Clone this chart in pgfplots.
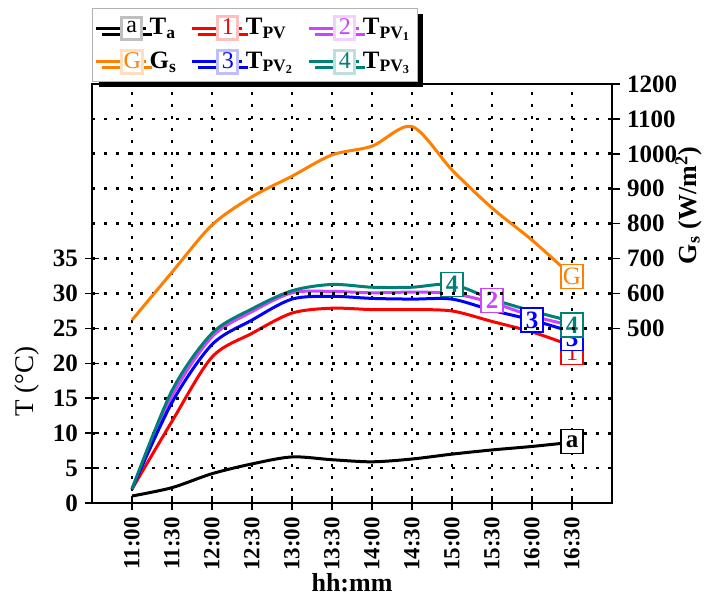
\documentclass[border=0pt]{standalone}
\usepackage{fontspec}
\setmainfont{Liberation Serif}
\usepackage{pgfplots}
\pgfplotsset{compat=1.18}
\usetikzlibrary{shadows}
\definecolor{cTa}{RGB}{0,0,0}
\definecolor{cPV}{RGB}{255,0,0}
\definecolor{cPVa}{RGB}{204,68,255}
\definecolor{cPVb}{RGB}{0,0,255}
\definecolor{cPVc}{RGB}{0,128,118}
\definecolor{cG}{RGB}{255,128,0}
\tikzset{
  lab/.style={draw=#1, fill=white, text=#1, line width=0.6pt, inner sep=1pt, minimum width=11pt, minimum height=12pt, font=\fontsize{12.5}{14}\selectfont},
}
\pgfplotsset{
  legimg/.style 2 args={legend image code/.code={
    \draw[##1] (0pt,0pt) -- (25pt,0pt);
    \node[draw=#1!25, fill=white, text=#1, inner sep=1pt, minimum width=10pt, minimum height=11pt, font=\fontsize{12}{13}\selectfont] at (12pt,0pt) {#2};}},
  crv/.style={#1, line width=1.5pt, smooth, no marks},
  gridst/.style={grid style={black, line width=1.4pt, dash pattern=on 1.4pt off 4.6pt}},
}
\begin{document}
\begin{tikzpicture}
\useasboundingbox (-46pt,-46.5pt) rectangle (306pt,251.5pt);
\begin{axis}[
  scale only axis, width=260pt, height=209.5pt,
  xmin=-1, xmax=12, ymin=0, ymax=60,
  xtick={0,...,11},
  xticklabels={11:00,11:30,12:00,12:30,13:00,13:30,14:00,14:30,15:00,15:30,16:00,16:30},
  ytick={0,5,...,35},
  xtick pos=bottom, ytick pos=left,
  tick align=center, major tick length=7pt,
  tick style={black, line width=0.8pt},
  axis line style={black, line width=0.8pt},
  grid=major, gridst,
  /pgf/number format/assume math mode=true,
  tick label style={font=\fontsize{12.5}{14}\selectfont\bfseries},
  xticklabel style={rotate=90, anchor=east, font=\fontsize{11.5}{13}\selectfont\bfseries},
  xlabel={\textbf{hh:mm}},
  xlabel style={font=\fontsize{13}{15}\selectfont, at={(axis description cs:0.5,-0.19)}, anchor=center, inner sep=0pt},
  ylabel={T (°C)},
  ylabel style={font=\fontsize{13.5}{15}\selectfont, at={(axis description cs:-0.125,0.289)}, anchor=center, rotate=0},
  clip=false,
]
\addplot[crv=cTa] coordinates {(0,1.0) (1,2.2) (2,4.2) (3,5.6) (4,6.6) (5,6.2) (6,5.9) (7,6.3) (8,7.0) (9,7.6) (10,8.1) (11,8.7)};
\addplot[crv=cPV] coordinates {(0,2.0) (1,11.7) (2,20.9) (3,24.3) (4,27.2) (5,27.9) (6,27.7) (7,27.7) (8,27.5) (9,26.0) (10,24.5) (11,22.5)};
\addplot[crv=cPVa] coordinates {(0,2.0) (1,15.3) (2,23.8) (3,27.4) (4,30.1) (5,30.3) (6,30.1) (7,30.2) (8,30.0) (9,28.7) (10,26.8) (11,25.4)};
\addplot[crv=cPVb] coordinates {(0,2.0) (1,14.4) (2,22.7) (3,26.2) (4,29.2) (5,29.6) (6,29.3) (7,29.2) (8,29.2) (9,27.6) (10,26.2) (11,24.5)};
\addplot[crv=cPVc] coordinates {(0,2.0) (1,16.1) (2,24.3) (3,27.8) (4,30.4) (5,31.3) (6,30.9) (7,30.9) (8,31.3) (9,29.2) (10,27.5) (11,26.0)};
\node[lab=cTa, font=\fontsize{12.5}{14}\selectfont\bfseries] at (axis cs:11,8.8) {a};
\node[lab=cPV] at (axis cs:11,21.6) {1};
\node[lab=cPVb, font=\fontsize{12.5}{14}\selectfont\bfseries] at (axis cs:11,23.6) {3};
\node[lab=cPVc, font=\fontsize{12.5}{14}\selectfont\bfseries] at (axis cs:11,25.5) {4};
\node[lab=cPVa, font=\fontsize{12.5}{14}\selectfont\bfseries] at (axis cs:9,29.0) {2};
\node[lab=cPVb, font=\fontsize{12.5}{14}\selectfont\bfseries] at (axis cs:10,26.2) {3};
\node[lab=cPVc, font=\fontsize{12.5}{14}\selectfont\bfseries] at (axis cs:8,31.3) {4};
\end{axis}
\begin{axis}[
  scale only axis, width=260pt, height=209.5pt,
  xmin=-1, xmax=12, ymin=0, ymax=1200,
  axis x line=none, axis y line*=right,
  ytick={500,600,...,1200},
  tick align=outside, major tick length=4pt,
  tick style={black, line width=0.8pt},
  axis line style={black, line width=0.8pt},
  ymajorgrids, gridst,
  /pgf/number format/assume math mode=true,
  /pgf/number format/1000 sep={},
  tick label style={font=\fontsize{12.5}{14}\selectfont\bfseries},
  ylabel={\textbf{G\textsubscript{s} (W/m\textsuperscript{2})}},
  ylabel style={font=\fontsize{13}{15}\selectfont, at={(axis description cs:1.147,0.71)}, anchor=center, rotate=0},
  clip=false,
  legend columns=3,
  legend cell align=left,
  legend style={at={(axis description cs:0,1)}, anchor=south west, yshift=1pt,
    draw=gray!60, fill=white, line width=0.6pt,
    drop shadow={shadow xshift=3pt, shadow yshift=-3pt, fill=black, opacity=1},
    font=\fontsize{12.5}{14}\selectfont\bfseries,
    /tikz/every even column/.append style={column sep=5pt},
    /tikz/every odd column/.append style={column sep=-1pt},
    row sep=3pt, inner xsep=1pt, inner ysep=3pt},
]
\addlegendimage{crv=cTa, legimg={cTa}{a}}
\addlegendentry{T\textsubscript{a}}
\addlegendimage{crv=cPV, legimg={cPV}{1}}
\addlegendentry{T\textsubscript{PV}}
\addlegendimage{crv=cPVa, legimg={cPVa}{2}}
\addlegendentry{T\textsubscript{PV\textsubscript{1}}}
\addplot[crv=cG, legimg={cG}{G}] coordinates {(0,524) (1,661) (2,796) (3,877) (4,936) (5,997) (6,1022) (7,1078) (8,954) (9,845) (10,753) (11,650)};
\addlegendentry{G\textsubscript{s}}
\addlegendimage{crv=cPVb, legimg={cPVb}{3}}
\addlegendentry{T\textsubscript{PV\textsubscript{2}}}
\addlegendimage{crv=cPVc, legimg={cPVc}{4}}
\addlegendentry{T\textsubscript{PV\textsubscript{3}}}
\node[lab=cG] at (axis cs:11,648) {G};
\end{axis}
\end{tikzpicture}
\end{document}
